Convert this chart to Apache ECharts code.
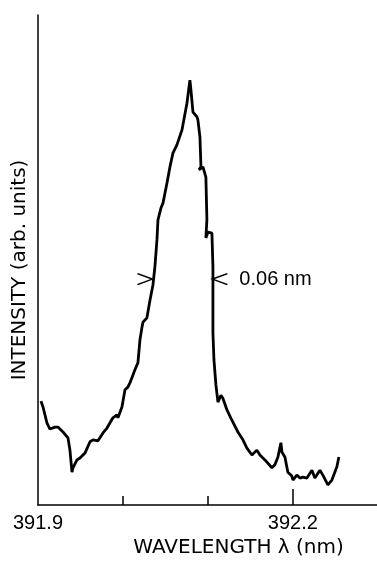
<!DOCTYPE html>
<html>
<head>
<meta charset="utf-8">
<script src="https://cdn.jsdelivr.net/npm/echarts@6/dist/echarts.min.js"></script>
<style>
  html, body { margin: 0; padding: 0; background: #fff; }
  #chart { width: 377px; height: 565px; }
</style>
</head>
<body>
<div id="chart"></div>
<script>
// wavelength (nm) and intensity (arb. units)
const wavelength = [
  391.9035, 391.9059, 391.9106, 391.9141, 391.9200, 391.9235, 391.9294, 391.9353,
  391.9376, 391.9400, 391.9412, 391.9459, 391.9494, 391.9553, 391.9612, 391.9647,
  391.9706, 391.9765, 391.9812, 391.9882, 391.9929, 391.9941, 391.9988, 392.0024,
  392.0059, 392.0082, 392.0141, 392.0176, 392.0200, 392.0224, 392.0235, 392.0282,
  392.0318, 392.0353, 392.0376, 392.0400, 392.0412, 392.0447, 392.0471, 392.0518,
  392.0553, 392.0588, 392.0635, 392.0694, 392.0753, 392.0788, 392.0800, 392.0824,
  392.0871, 392.0882, 392.0906, 392.0918, 392.0894, 392.0941, 392.0976, 392.0988,
  392.0976, 392.1000, 392.1047, 392.1059, 392.1059, 392.1071, 392.1094, 392.1118,
  392.1153, 392.1176, 392.1224, 392.1282, 392.1353, 392.1412, 392.1459, 392.1518,
  392.1576, 392.1612, 392.1671, 392.1753, 392.1788, 392.1824, 392.1859, 392.1871,
  392.1906, 392.1941, 392.1988, 392.2000, 392.2047, 392.2082, 392.2118, 392.2165,
  392.2224, 392.2259, 392.2318, 392.2353, 392.2412, 392.2459, 392.2518, 392.2541
];
const intensity = [
  21.2, 20.0, 16.7, 15.5, 15.9, 15.9, 14.9, 13.7,
  11.2, 6.7, 7.6, 9.2, 9.6, 10.6, 12.9, 13.3,
  13.1, 14.7, 15.7, 17.8, 18.4, 17.8, 20.0, 23.5,
  24.1, 24.9, 27.6, 29.0, 33.7, 36.3, 37.3, 38.2,
  41.8, 44.9, 48.6, 54.1, 58.2, 60.6, 61.6, 65.7,
  69.0, 71.8, 73.5, 76.5, 82.0, 86.7, 84.7, 80.2,
  79.2, 78.6, 75.1, 69.0, 68.4, 69.0, 66.9, 58.2,
  54.5, 55.7, 55.5, 48.6, 35.1, 29.6, 24.5, 21.0,
  22.4, 21.8, 19.4, 17.3, 14.9, 13.3, 11.6, 10.2,
  11.2, 10.2, 9.2, 7.6, 8.2, 9.8, 12.7, 10.8,
  9.8, 6.7, 5.9, 5.1, 6.1, 5.5, 5.7, 5.5,
  7.1, 5.5, 7.1, 6.1, 4.1, 5.1, 7.8, 9.8
];

// half-width markers ( > <) and their level
const fwhmEdges = [392.0259, 392.1141];
const fwhmLevel = 46.1;
const fwhmText = '0.06 nm';

const tickValues = [392.0, 392.1, 392.2];
const labelValues = [391.9, 392.2];

const font = 'Liberation Sans, Arial, sans-serif';
const nameFont = 'DejaVu Sans, sans-serif';

const chart = echarts.init(document.getElementById('chart'));

const option = {
  animation: false,
  backgroundColor: '#fff',
  grid: { left: 38, right: 0, top: 15, bottom: 60 },
  xAxis: [{
    type: 'value',
    min: 391.9,
    max: 392.299,
    splitLine: { show: false },
    axisLine: { lineStyle: { color: '#000', width: 1.5 } },
    axisTick: { inside: true, length: 9, customValues: tickValues, lineStyle: { color: '#000', width: 1.5 } },
    axisLabel: {
      customValues: labelValues,
      formatter: v => v.toFixed(1),
      color: '#000', fontSize: 20, fontFamily: font, margin: 8
    },
    name: 'WAVELENGTH λ (nm)',
    nameLocation: 'middle',
    nameGap: 33,
    nameTextStyle: { color: '#000', fontSize: 20, fontFamily: nameFont, padding: [0, 0, 0, 62] }
  }, {
    // the 392.2 tick is drawn longer in the original
    type: 'value',
    position: 'bottom',
    min: 391.9,
    max: 392.299,
    splitLine: { show: false },
    axisLine: { show: false },
    axisLabel: { show: false },
    axisTick: { inside: true, length: 16, customValues: [392.2], lineStyle: { color: '#000', width: 1.5 } }
  }],
  yAxis: {
    type: 'value',
    min: 0,
    max: 100,
    splitLine: { show: false },
    axisTick: { show: false },
    axisLabel: { show: false },
    axisLine: { show: true, lineStyle: { color: '#000', width: 1.5 } },
    name: 'INTENSITY (arb. units)',
    nameLocation: 'middle',
    nameGap: 8,
    nameRotate: 90,
    nameTextStyle: { color: '#000', fontSize: 20, fontFamily: nameFont, padding: [0, 20, 0, 0] }
  },
  series: [{
    name: 'intensity',
    type: 'line',
    showSymbol: false,
    data: wavelength.map((w, i) => [w, intensity[i]]),
    lineStyle: { color: '#000', width: 2.8 },
    silent: true
  }, {
    name: 'fwhm',
    type: 'scatter',
    silent: true,
    data: [{
      value: [fwhmEdges[0], fwhmLevel],
      symbol: 'path://M0,0L10,5L0,10'
    }, {
      value: [fwhmEdges[1], fwhmLevel],
      symbol: 'path://M10,0L0,5L10,10',
      label: {
        show: true, position: 'right', distance: 9,
        formatter: fwhmText, color: '#000', fontSize: 20, fontFamily: font
      }
    }],
    symbolSize: [15, 11],
    itemStyle: { color: 'none', borderColor: '#000', borderWidth: 1.6, opacity: 1 }
  }]
};

chart.setOption(option);
</script>
</body>
</html>
